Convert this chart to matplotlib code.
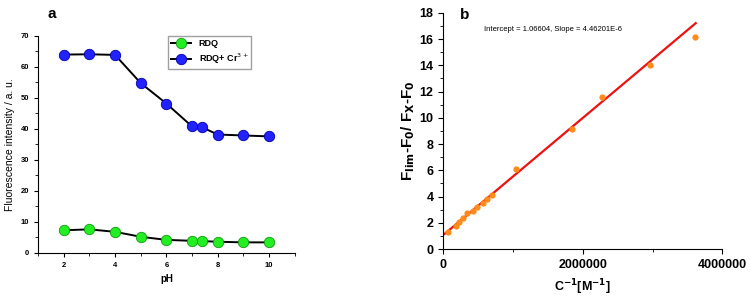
import matplotlib.pyplot as plt
import numpy as np

# panel a data
ph = [2, 3, 4, 5, 6, 7, 7.4, 8, 9, 10]
rdq = [7.3, 7.6, 6.8, 5.2, 4.2, 3.9, 3.8, 3.6, 3.4, 3.4]
rdq_cr = [64.0, 64.1, 63.9, 54.8, 48.2, 40.8, 40.5, 38.2, 37.9, 37.6]

# panel b data
inv_c = [72000, 182000, 230000, 278000, 335000, 421000, 489000, 565000, 632000,
         700000, 1044000, 1844000, 2280000, 2970000, 3607000]
ratio = [1.3, 1.72, 2.08, 2.33, 2.72, 2.9, 3.18, 3.54, 3.85, 4.15, 6.1, 9.14,
         11.6, 14.05, 16.13]
intercept = 1.06604
slope = 4.46201E-6
fit_x = [20000, 3620000]

plt.rcParams['font.family'] = ['Liberation Sans', 'DejaVu Sans']

fig = plt.figure(figsize=(7.5, 3), dpi=100)

# ---- panel a
ax1 = fig.add_axes([0.0507, 0.157, 0.3423, 0.723])
ax1.plot(ph, rdq, color='black', lw=1.4, marker='o', ms=7.5,
         mfc='#22ee22', mec='#119911', mew=0.6, label='RDQ')
ax1.plot(ph, rdq_cr, color='black', lw=1.4, marker='o', ms=7.5,
         mfc='#2222ff', mec='#0000aa', mew=0.6, label='RDQ+ Cr$^{3+}$')
ax1.set_xlim(1, 11)
ax1.set_ylim(0, 70)
ax1.set_xticks([2, 4, 6, 8, 10])
ax1.set_xticks([1, 3, 5, 7, 9, 11], minor=True)
ax1.set_yticks(range(0, 71, 10))
ax1.set_yticks(range(5, 70, 10), minor=True)
for s in ['top', 'right']:
    ax1.spines[s].set_visible(False)
ax1.tick_params(labelsize=5.5, length=3, width=0.8)
ax1.tick_params(which='minor', length=2, width=0.6)
for lb in ax1.get_xticklabels() + ax1.get_yticklabels():
    lb.set_fontweight('bold')
ax1.set_xlabel('pH', fontsize=7, fontweight='bold', labelpad=4)
ax1.set_ylabel('Fluorescence intensity / a. u.', fontsize=7.5, labelpad=4)
leg = ax1.legend(loc='upper left', bbox_to_anchor=(0.49, 1.02), fontsize=6.5,
                 fancybox=False, edgecolor='#888888', handlelength=2.2,
                 borderpad=0.35, labelspacing=0.35)
for t in leg.get_texts():
    t.set_fontweight('bold')
fig.text(0.069, 0.952, 'a', fontsize=11, fontweight='bold', va='center', ha='center')

# ---- panel b
ax2 = fig.add_axes([0.591, 0.17, 0.372, 0.787])
ax2.plot(fit_x, [intercept + slope * v for v in fit_x], color='#ee1111', lw=1.6)
ax2.plot(inv_c, ratio, 'o', color='#ff8c1a', ms=4.5, mec='none')
ax2.set_xlim(0, 4000000)
ax2.set_ylim(0, 18)
ax2.set_xticks([0, 2000000, 4000000])
ax2.set_xticks([1000000, 3000000], minor=True)
ax2.ticklabel_format(axis='x', style='plain', useOffset=False)
ax2.set_yticks(range(0, 19, 2))
ax2.set_yticks(range(1, 18, 2), minor=True)
for s in ['top', 'right']:
    ax2.spines[s].set_visible(False)
ax2.tick_params(labelsize=9, length=3.5, width=0.8)
ax2.tick_params(which='minor', length=2, width=0.6)
for lb in ax2.get_xticklabels() + ax2.get_yticklabels():
    lb.set_fontweight('bold')
ax2.set_xlabel('C$^{\\mathbf{-1}}$[M$^{\\mathbf{-1}}$]', fontsize=9,
               fontweight='bold', labelpad=5)
ax2.set_ylabel('F$_{\\mathbf{lim}}$-F$_{\\mathbf{0}}$/ F$_{\\mathbf{X}}$-F$_{\\mathbf{0}}$',
               fontsize=11, fontweight='bold', labelpad=2)
ax2.text(0.147, 0.928, 'Intercept = 1.06604, Slope = 4.46201E-6', transform=ax2.transAxes,
         fontsize=5.5, va='center')
fig.text(0.619, 0.95, 'b', fontsize=11, fontweight='bold', va='center', ha='center')

fig.savefig('out.png', dpi=100)
